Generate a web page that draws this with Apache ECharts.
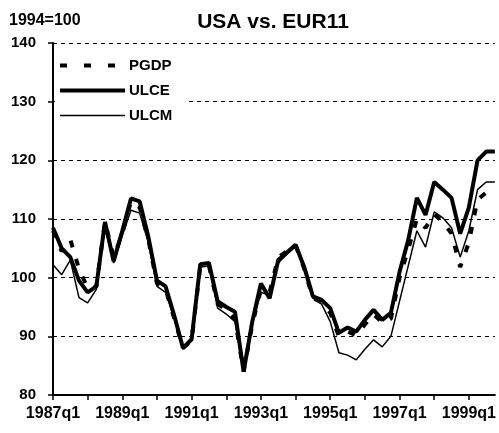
<!DOCTYPE html>
<html>
<head>
<meta charset="utf-8">
<script src="https://cdn.jsdelivr.net/npm/echarts@6/dist/echarts.min.js"></script>
<style>
html,body{margin:0;padding:0;background:#fff;}
#chart{width:499px;height:433px;}
</style>
</head>
<body>
<div id="chart"></div>
<script>
const years = [1987,1988,1989,1990,1991,1992,1993,1994,1995,1996,1997,1998,1999];
const categories = [];
years.forEach(y => { for (let q = 1; q <= 4; q++) categories.push(y + 'q' + q); });

const ulce = [108.5,105,103.5,99.5,97.5,98.5,109.5,102.8,108,113.5,113,107,
  99.5,98.5,93.5,88,89.5,102.3,102.5,96,95,94.2,84,92.5,
  99,96.5,103,104.3,105.6,101.8,96.8,96.2,94.8,90.6,91.5,90.8,
  92.8,94.5,92.8,94,101,106.4,113.6,110.7,116.3,115,113.6,107.5,
  112,120,121.5,121.5];
const pgdp = [108,104.5,106.5,101.5,98.2,98.5,109.5,103.5,107.5,113,112,106.5,
  99,98,93,88,89.3,102,102,95.5,94.5,93,84,92,
  98,97.5,103.5,104.5,105.5,101.5,96.5,95.8,94,90,90.8,90.2,
  92,93.8,92.3,93,100,104.8,110,108.5,110.8,109.5,107.5,101.8,
  106,113.3,114.5,114.3];
const ulcm = [102.2,100.5,103,96.6,95.7,98,108.5,102.5,107.2,111.5,111,106,
  98.5,97.5,93,87.8,89.5,101.8,102,94.8,93.8,92.5,84,92,
  97.5,97,102.5,104,105.3,101.2,96.5,95.5,92.5,87.2,86.8,86,
  87.8,89.4,88.2,90,96,102,108,105.2,111.2,110.2,108.5,103.5,
  108,115,116.3,116.3];

const yTicks = [80, 140, 10];

const chart = echarts.init(document.getElementById('chart'));
const font = 'Liberation Sans, Arial, sans-serif';
chart.setOption({
  animation: false,
  backgroundColor: '#fff',
  title: [
    {text: 'USA vs. EUR11', left: 268, textAlign: 'center', top: 7,
     textStyle: {fontFamily: font, fontWeight: 'bold', fontSize: 21, color: '#000'}},
    {text: '1994=100', left: 4, top: 8,
     textStyle: {fontFamily: font, fontWeight: 'bold', fontSize: 16, color: '#000'}}
  ],
  legend: {
    orient: 'vertical', left: 55, top: 53,
    padding: [5, 14, 5, 3],
    backgroundColor: '#fff',
    itemWidth: 65, itemHeight: 14, itemGap: 10,
    data: [
      {name: 'PGDP', itemStyle: {opacity: 0}, lineStyle: {color: '#000', width: 4, type: [7, 17]}},
      {name: 'ULCE', itemStyle: {opacity: 0}, lineStyle: {color: '#000', width: 4}},
      {name: 'ULCM', itemStyle: {opacity: 0}, lineStyle: {color: '#000', width: 1.5}}
    ],
    textStyle: {fontFamily: font, fontWeight: 'bold', fontSize: 15, color: '#000', padding: [0,0,0,-1]}
  },
  grid: {left: 53, right: 0, top: 43, bottom: 38, containLabel: false},
  xAxis: {
    type: 'category', data: categories, boundaryGap: false,
    axisLine: {lineStyle: {color: '#000', width: 2}},
    axisTick: {show: true, interval: 3, length: 5, lineStyle: {color: '#000', width: 1.5}},
    axisLabel: {interval: 7, margin: 11, fontFamily: font, fontWeight: 'bold', fontSize: 16, color: '#000'},
    splitLine: {show: false}
  },
  yAxis: {
    type: 'value', min: yTicks[0], max: yTicks[1], interval: yTicks[2],
    axisLine: {show: true, lineStyle: {color: '#000', width: 2}},
    axisTick: {show: true, length: 5, lineStyle: {color: '#000', width: 1.5}},
    axisLabel: {margin: 17, fontFamily: font, fontWeight: 'bold', fontSize: 15, color: '#000'},
    splitLine: {show: true, lineStyle: {color: '#000', width: 1, type: [4, 4]}}
  },
  series: [
    {name: 'ULCE', type: 'line', data: ulce, symbol: 'none', z: 3,
     lineStyle: {color: '#000', width: 4}, itemStyle: {color: '#000'}},
    {name: 'ULCM', type: 'line', data: ulcm, symbol: 'none', z: 3,
     lineStyle: {color: '#000', width: 1.5}, itemStyle: {color: '#000'}},
    {name: 'PGDP', type: 'line', data: pgdp, symbol: 'none', z: 3,
     lineStyle: {color: '#000', width: 4, type: [7, 12]}, itemStyle: {color: '#000'}}
  ]
});
</script>
</body>
</html>
